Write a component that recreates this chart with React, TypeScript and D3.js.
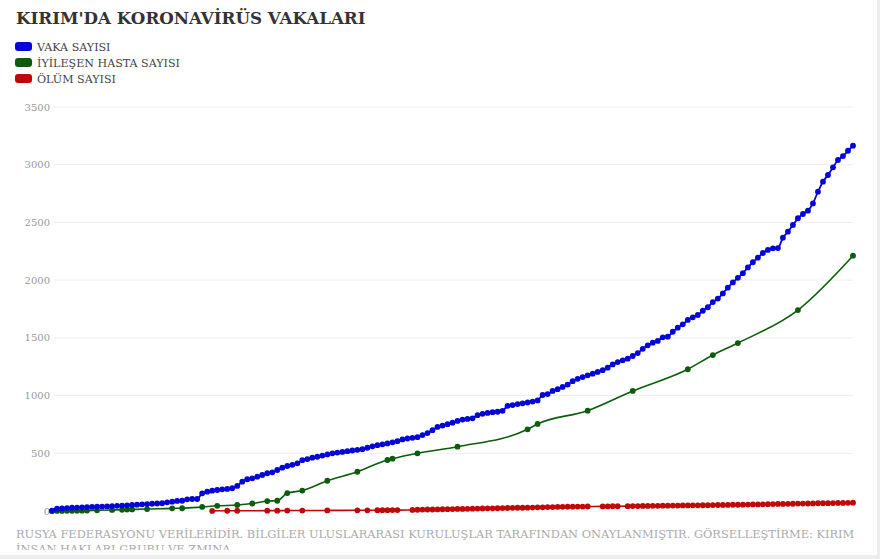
import * as d3 from "d3";
import React from "react";

// daily case count (VAKA SAYISI), one value per day
const vakaSayisi: number[] = [
  3, 20, 22, 25, 28, 30, 32, 33, 35, 37, 38, 40, 43, 45, 47, 49, 52, 55, 58, 60,
  63, 65, 67, 75, 81, 87, 89, 101, 104, 104, 153, 167, 176, 182, 188, 191, 197, 217, 254, 275,
  283, 297, 312, 327, 335, 355, 375, 390, 400, 413, 440, 450, 462, 470, 480, 490, 500, 506, 512, 518,
  524, 530, 535, 548, 560, 570, 578, 585, 595, 605, 620, 628, 634, 640, 658, 675, 700, 728, 740, 752,
  765, 780, 792, 798, 803, 830, 842, 850, 856, 860, 868, 910, 918, 926, 933, 940, 948, 958, 1005, 1013,
  1040, 1055, 1075, 1095, 1125, 1145, 1160, 1175, 1190, 1205, 1220, 1242, 1270, 1290, 1305, 1320, 1343, 1368, 1405, 1435,
  1458, 1473, 1505, 1510, 1553, 1588, 1617, 1655, 1678, 1698, 1735, 1765, 1810, 1840, 1885, 1935, 1980, 2020, 2060, 2110,
  2155, 2195, 2235, 2262, 2276, 2278, 2368, 2420, 2478, 2536, 2573, 2602, 2665, 2766, 2853, 2911, 2977, 3041, 3075, 3121,
  3165,
];

// recovered (İYİLEŞEN HASTA SAYISI): only reported on some days
const iyilesenGun: number[] = [
  0, 1, 2, 3, 4, 5, 6, 7, 9, 12, 14, 15, 16, 19, 24, 26, 30, 33, 37, 40,
  43, 45, 47, 50, 55, 61, 67, 68, 73, 81, 95, 97, 107, 116, 127, 132, 137, 149, 160,
];
const iyilesenSayisi: number[] = [
  0, 1, 1, 2, 2, 3, 3, 4, 6, 9, 11, 13, 14, 17, 23, 24, 35, 45, 52, 65,
  86, 89, 155, 177, 262, 340, 442, 453, 500, 557, 708, 754, 869, 1040, 1228, 1351, 1455, 1741, 2212,
];

// deaths (ÖLÜM SAYISI), null where no value was reported
const olumSayisi: (number | null)[] = [
  null, null, null, null, null, null, null, null, null, null, null, null, null, null, null, null, null, null, null, null,
  null, null, null, null, null, null, null, null, null, null, null, null, 1, null, null, 2, null, 2, null, null,
  null, null, null, 3, null, 3, null, 4, null, null, 4, null, null, null, null, 5, null, null, null, null,
  null, 6, null, 6, null, 7, 7, 7, 8, 8, null, null, 9, 11, 12, 13, 13, 14, 15, 16,
  17, 18, 18, 19, 20, 21, 22, 23, 23, 24, 25, 26, 27, 28, 28, 29, 30, 31, 32, 33,
  34, 35, 36, 37, 37, 38, 38, 39, null, null, 40, 40, 41, 41, null, 42, 43, 43, 44, 44,
  45, 45, 46, 46, 47, 47, 48, 48, 49, 49, 50, 50, 51, 52, 52, 53, 54, 54, 55, 56,
  57, 57, 58, 59, 60, 61, 61, 62, 63, 64, 64, 65, 66, 67, 67, 68, 69, 70, 70, 71,
  72,
];

const yTicks: number[] = [0, 500, 1000, 1500, 2000, 2500, 3000, 3500];

const legendItems = [
  { label: "VAKA SAYISI", color: "#0505d8" },
  { label: "İYİLEŞEN HASTA SAYISI", color: "#0b5c0b" },
  { label: "ÖLÜM SAYISI", color: "#c00808" },
];

const title = "KIRIM'DA KORONAVİRÜS VAKALARI";
const footerLines = [
  "RUSYA FEDERASYONU VERİLERİDİR. BİLGİLER ULUSLARARASI KURULUŞLAR TARAFINDAN ONAYLANMIŞTIR. GÖRSELLEŞTİRME: KIRIM",
  "İNSAN HAKLARI GRUBU VE ZMINA",
];

const W = 880;
const H = 559;
const serif = "'DejaVu Serif', serif";

const App = () => {
  const xScale = d3.scaleLinear().domain([0, vakaSayisi.length - 1]).range([52, 853]);
  const yScale = d3.scaleLinear().domain([0, 3500]).range([511, 107]);

  type Pt = { i: number; v: number };
  const vaka: Pt[] = vakaSayisi.map((v, i) => ({ i, v }));
  const iyilesen: Pt[] = iyilesenGun.map((g, k) => ({ i: g, v: iyilesenSayisi[k] }));
  const olum: Pt[] = olumSayisi
    .map((v, i) => ({ i, v }))
    .filter((d) => d.v !== null) as Pt[];

  const line = d3
    .line<Pt>()
    .x((d) => xScale(d.i))
    .y((d) => yScale(d.v))
    .curve(d3.curveMonotoneX);

  const series = [
    { data: olum, color: legendItems[2].color, width: 1.6 },
    { data: iyilesen, color: legendItems[1].color, width: 1.6 },
    { data: vaka, color: legendItems[0].color, width: 1.8 },
  ];

  return (
    <svg
      width={W}
      height={H}
      style={{ position: "absolute", left: 0, top: 0 }}
      fontFamily={serif}
    >
      <defs>
        <clipPath id="footer-clip">
          <rect x={0} y={0} width={W} height={550} />
        </clipPath>
      </defs>
      <rect width={W} height={H} fill="#ededed" />
      <rect width={877} height={555} fill="#ffffff" />

      <text x={16} y={24} fontSize={16.7} fontWeight="bold" fill="#333">
        {title}
      </text>

      {legendItems.map((item, k) => (
        <g key={item.label} transform={`translate(15, ${42 + k * 16})`}>
          <rect width={17} height={9} rx={3} fill={item.color} />
          <text x={22} y={8.5} fontSize={11.1} fill="#444">
            {item.label}
          </text>
        </g>
      ))}

      {yTicks.map((t) => (
        <g key={t}>
          <line
            x1={54}
            x2={853}
            y1={yScale(t)}
            y2={yScale(t)}
            stroke="#eeeeee"
            strokeWidth={1}
          />
          <text
            x={50}
            y={yScale(t)}
            dy="0.35em"
            textAnchor="end"
            fontSize={10}
            fill="#999"
          >
            {t}
          </text>
        </g>
      ))}

      {series.map((s, k) => (
        <g key={k}>
          <path d={line(s.data) ?? ""} fill="none" stroke={s.color} strokeWidth={s.width} />
          {s.data.map((d) => (
            <circle key={d.i} cx={xScale(d.i)} cy={yScale(d.v)} r={2.9} fill={s.color} />
          ))}
        </g>
      ))}

      <g clipPath="url(#footer-clip)">
        {footerLines.map((l, k) => (
          <text key={k} x={16} y={538 + k * 15} fontSize={11.4} fill="#aaa">
            {l}
          </text>
        ))}
      </g>
    </svg>
  );
};

export default App;
